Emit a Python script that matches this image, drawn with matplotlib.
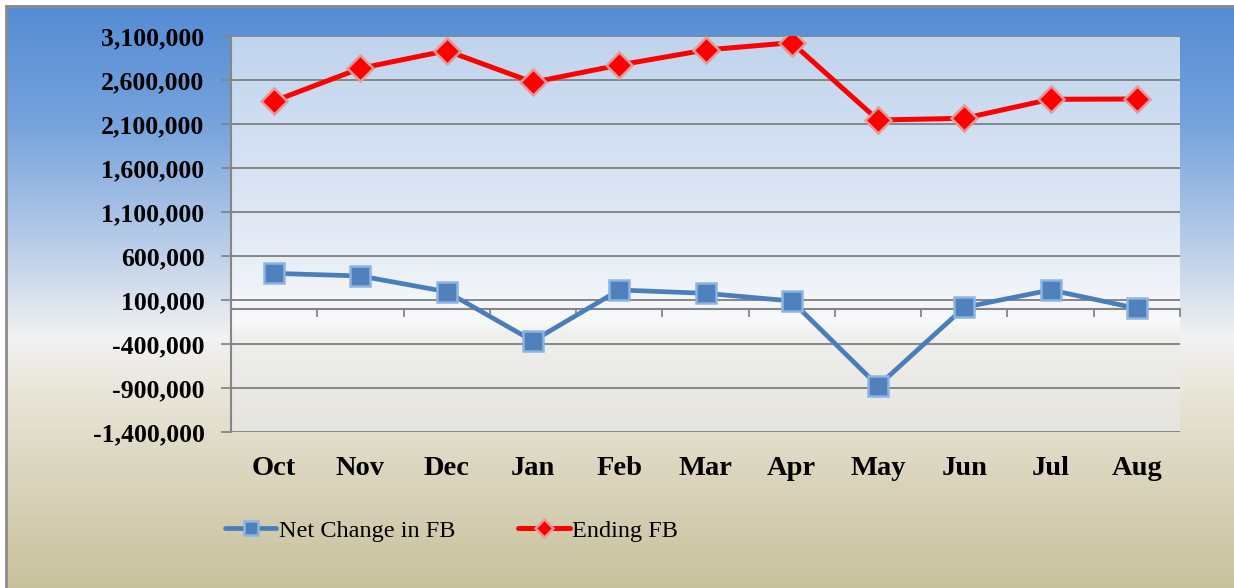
import numpy as np
import matplotlib
matplotlib.use("Agg")
import matplotlib.pyplot as plt
from matplotlib.ticker import FuncFormatter, FixedLocator

# data
months = ["Oct", "Nov", "Dec", "Jan", "Feb", "Mar", "Apr", "May", "Jun", "Jul", "Aug"]
net_change = [403000, 373000, 194000, -366000, 214000, 176000, 89000, -877000, 17000, 214000, 5000]
ending_fb = [2361000, 2733000, 2933000, 2574000, 2770000, 2941000, 3024000, 2145000, 2165000, 2381000, 2384000]
y_ticks = list(range(-1400000, 3100001, 500000))

serif = ["Liberation Serif", "DejaVu Serif"]
grid_col = "#868686"


def gradient(stops, n=600):
    pos = np.array([s[0] for s in stops])
    cols = np.array([s[1] for s in stops], dtype=float) / 255.0
    t = np.linspace(0, 1, n)
    img = np.stack([np.interp(t, pos, cols[:, k]) for k in range(3)], axis=1)
    return img[:, None, :]


fig = plt.figure(figsize=(12.34, 5.88), dpi=100, facecolor="white")

# outer background: blue at top, whitish band, tan at the bottom
bg = fig.add_axes([0, 0, 1, 1], zorder=-10)
bx, by = 5.5 / 1234, 1 - 5.5 / 588
bg_stops = [(0.0, (84, 140, 212)), (0.2, (118, 163, 220)), (0.4, (184, 204, 232)),
            (0.56, (242, 242, 242)), (0.66, (232, 228, 214)), (0.8, (218, 212, 188)),
            (1.0, (198, 191, 152))]
bg.imshow(gradient(bg_stops), extent=(bx, 1.05, -0.02, by), aspect="auto", origin="upper")
bg.plot([bx, 1.05], [by, by], color="#8c8c8c", linewidth=2)
bg.plot([bx, bx], [-0.05, by], color="#8c8c8c", linewidth=2)
bg.set_xlim(0, 1)
bg.set_ylim(0, 1)
bg.axis("off")

ax = fig.add_axes([231 / 1234, 1 - 432 / 588, 949 / 1234, 396 / 588])
x = np.arange(len(months))
xlim = (-0.5, len(months) - 0.5)
ylim = (y_ticks[0], y_ticks[-1])

# plot area fill
pa_stops = [(0.0, (192, 212, 238)), (0.5, (226, 234, 245)), (0.72, (248, 249, 250)),
            (0.76, (239, 239, 237)), (1.0, (230, 228, 222))]
ax.imshow(gradient(pa_stops), extent=(xlim[0], xlim[1], ylim[0], ylim[1]),
          aspect="auto", origin="upper", zorder=0)

ax.set_xlim(*xlim)
ax.set_ylim(*ylim)
ax.yaxis.set_major_locator(FixedLocator(y_ticks))
ax.yaxis.set_major_formatter(FuncFormatter(lambda v, p: f"{int(v):,}"))
ax.grid(axis="y", color=grid_col, linewidth=1.4, zorder=1)
ax.set_axisbelow(True)

ax.plot(x, net_change, color="#4a7ebb", linewidth=3.4, marker="s", markersize=15,
        markerfacecolor="#4f81bd", markeredgecolor="#8db4e2", markeredgewidth=1.8,
        label="Net Change in FB", zorder=4, solid_capstyle="round")
ax.plot(x, ending_fb, color="#ff0000", linewidth=3.6, marker="D", markersize=13,
        markerfacecolor="#ff0000", markeredgecolor="#e39a9a", markeredgewidth=1.8,
        label="Ending FB", zorder=5, solid_capstyle="round")

for s in ["top", "right", "bottom"]:
    ax.spines[s].set_visible(False)
ax.spines["left"].set_color(grid_col)
ax.spines["left"].set_linewidth(1.5)

ax.set_xticks(x)
ax.set_xticklabels(months)
ax.tick_params(axis="x", length=0, pad=17)
ax.tick_params(axis="y", length=7, width=1.3, color=grid_col, pad=12, direction="out")
for lbl in ax.get_xticklabels():
    lbl.set_fontfamily(serif)
    lbl.set_fontweight("bold")
    lbl.set_fontsize(20.5)
for lbl in ax.get_yticklabels():
    lbl.set_fontfamily(serif)
    lbl.set_fontweight("bold")
    lbl.set_fontsize(18.5)

# category axis crossing at zero, ticks between categories
zero_frac = (0 - ylim[0]) / (ylim[1] - ylim[0])
cat_ax = ax.secondary_xaxis(zero_frac)
cat_ax.set_xticks(np.arange(xlim[0], xlim[1] + 0.01, 1.0))
cat_ax.set_xticklabels([])
cat_ax.tick_params(axis="x", direction="out", length=6, width=1.3, color=grid_col)
cat_ax.spines["bottom"].set_color(grid_col)
cat_ax.spines["bottom"].set_linewidth(1.5)

fig.legend(loc="center", bbox_to_anchor=(0.366, 0.097), ncol=2, frameon=False,
           prop={"family": serif, "size": 17.5}, handlelength=2.1, handletextpad=0.1,
           columnspacing=2.6, markerscale=0.7)

fig.savefig("out.png", dpi=100, facecolor="white")
